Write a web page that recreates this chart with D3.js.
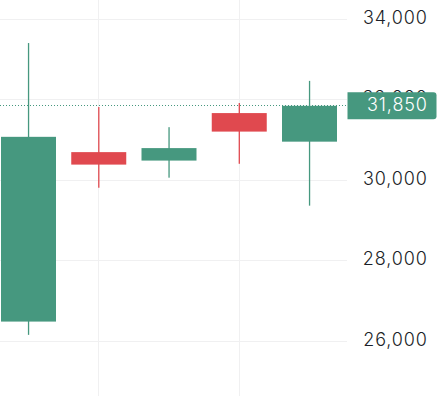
<!DOCTYPE html>
<html>
<head>
<meta charset="utf-8">
<script src="https://cdn.jsdelivr.net/npm/d3@7"></script>
<style>
  html, body { margin: 0; padding: 0; background: #fff; }
  svg { display: block; }
</style>
</head>
<body>
<svg id="chart"></svg>
<script>
// candle data
const days = ["d1", "d2", "d3", "d4", "d5"];
const opens = [26490, 30700, 30490, 31670, 30960];
const highs = [33410, 31820, 31320, 31920, 32470];
const lows = [26160, 29815, 30065, 30410, 29370];
const closes = [31080, 30390, 30800, 31210, 31850];
const priceTicks = [26000, 28000, 30000, 32000, 34000];
const timeGridDays = ["d2", "d4"];
const lastPrice = 31850;

const width = 442;
const height = 396;
const plotRight = 347;
const bodyWidth = 55;
const upColor = "#46987f";
const downColor = "#e0494f";
const gridColor = "#f0f0f1";
const labelFont = "Inter, 'Noto Sans', sans-serif";
const letterSpace = 0.9;

const svg = d3.select("#chart").attr("width", width).attr("height", height);

const x = d3.scaleLinear().domain([0, days.length - 1]).range([28.5, 309.5]);
const y = d3.scaleLinear().domain([26000, 34000]).range([341.3, 19.3]);

const candles = days.map((d, i) => ({
  day: d,
  i: i,
  open: opens[i],
  high: highs[i],
  low: lows[i],
  close: closes[i],
}));

const crisp = (v) => Math.floor(v) + 0.5;

// horizontal grid
svg
  .append("g")
  .selectAll("line")
  .data(priceTicks)
  .join("line")
  .attr("x1", 0)
  .attr("x2", plotRight)
  .attr("y1", (d) => crisp(y(d)))
  .attr("y2", (d) => crisp(y(d)))
  .style("stroke", gridColor)
  .style("stroke-width", 1);

// vertical grid
svg
  .append("g")
  .selectAll("line")
  .data(timeGridDays)
  .join("line")
  .attr("x1", (d) => crisp(x(days.indexOf(d))))
  .attr("x2", (d) => crisp(x(days.indexOf(d))))
  .attr("y1", 0)
  .attr("y2", height)
  .style("stroke", gridColor)
  .style("stroke-width", 1);

// last price dotted line
svg
  .append("line")
  .attr("x1", 0)
  .attr("x2", plotRight)
  .attr("y1", crisp(y(lastPrice)))
  .attr("y2", crisp(y(lastPrice)))
  .style("stroke", upColor)
  .style("stroke-width", 1)
  .style("stroke-dasharray", "1 2");

const candleG = svg
  .append("g")
  .selectAll("g")
  .data(candles)
  .join("g");

candleG
  .append("rect")
  .attr("x", (d) => x(d.i) - 0.6)
  .attr("width", 1.3)
  .attr("y", (d) => y(d.high))
  .attr("height", (d) => y(d.low) - y(d.high))
  .style("fill", (d) => (d.close >= d.open ? upColor : downColor));

candleG
  .append("rect")
  .attr("x", (d) => x(d.i) - bodyWidth / 2)
  .attr("width", bodyWidth)
  .attr("y", (d) => y(Math.max(d.open, d.close)))
  .attr("height", (d) => Math.abs(y(d.open) - y(d.close)))
  .style("fill", (d) => (d.close >= d.open ? upColor : downColor));

// price axis labels
const fmt = d3.format(",");
svg
  .append("g")
  .selectAll("text")
  .data(priceTicks)
  .join("text")
  .attr("x", 427 + letterSpace)
  .attr("y", (d) => y(d) + 4.2)
  .attr("text-anchor", "end")
  .style("font-family", labelFont)
  .style("font-size", "18px")
  .style("font-weight", 300)
  .style("letter-spacing", letterSpace + "px")
  .style("fill", "#1c1f29")
  .text((d) => fmt(d));

// last price label
const ly = y(lastPrice);
const boxTop = ly - 13.5;
const boxH = 27;
const boxL = 347.5;
const boxR = 436.5;
const r = 3;
svg
  .append("path")
  .attr(
    "d",
    `M${boxL},${boxTop} H${boxR - r} Q${boxR},${boxTop} ${boxR},${boxTop + r}` +
      ` V${boxTop + boxH - r} Q${boxR},${boxTop + boxH} ${boxR - r},${boxTop + boxH}` +
      ` H${boxL} Z`
  )
  .style("fill", upColor);

svg
  .append("text")
  .attr("x", 427 + letterSpace)
  .attr("y", ly + 5.6)
  .attr("text-anchor", "end")
  .style("font-family", labelFont)
  .style("font-size", "18px")
  .style("font-weight", 300)
  .style("letter-spacing", letterSpace + "px")
  .style("fill", "#ffffff")
  .text(fmt(lastPrice));
</script>
</body>
</html>
